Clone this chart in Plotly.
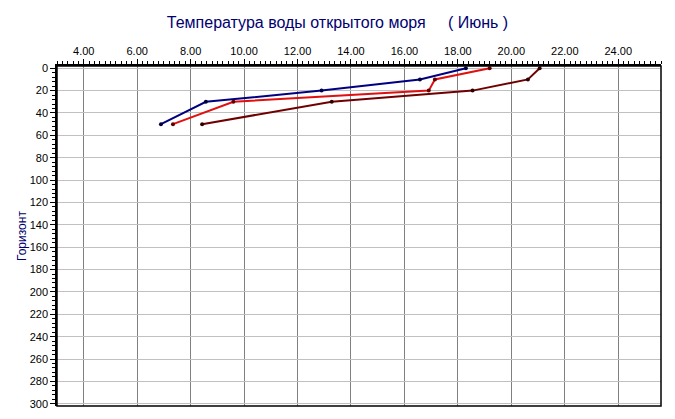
import plotly.graph_objects as go

depth = [0, 10, 20, 30, 50]
temp_navy = [18.30, 16.58, 12.90, 8.57, 6.89]
temp_red = [19.19, 17.14, 16.91, 9.60, 7.34]
temp_maroon = [21.06, 20.62, 18.55, 13.28, 8.43]

title_text = "Температура воды открытого моря\u00a0\u00a0\u00a0\u00a0\u00a0( Июнь )"
y_title = "Горизонт"
x_ticks = [4, 6, 8, 10, 12, 14, 16, 18, 20, 22, 24]
y_ticks = list(range(0, 301, 20))

series = [
    (temp_navy, "#000080", "#000040"),
    (temp_red, "#e01010", "#600000"),
    (temp_maroon, "#700000", "#300000"),
]

fig = go.Figure()
for temps, col, mcol in series:
    fig.add_trace(go.Scatter(
        x=temps, y=depth, mode="lines+markers",
        line=dict(color=col, width=2),
        marker=dict(color=mcol, size=4),
        showlegend=False,
    ))

font_family = "Liberation Sans, Arial, sans-serif"

fig.update_layout(
    width=675, height=419,
    margin=dict(l=57, r=14, t=66, b=13),
    paper_bgcolor="white", plot_bgcolor="white",
    font=dict(family=font_family, size=11, color="black"),
    title=dict(text=title_text, x=0.5, xanchor="center",
               y=1 - 22 / 419, yanchor="middle", yref="container",
               font=dict(family=font_family, size=16, color="#000070")),
    xaxis=dict(
        side="top", range=[3.0, 25.6], automargin=False,
        tickvals=x_ticks, ticktext=[f"{v:.2f}" for v in x_ticks],
        ticks="outside", ticklen=5, tickcolor="black",
        showgrid=True, gridcolor="#808080", gridwidth=1,
        zeroline=False,
        showline=True, linecolor="black", linewidth=1.5, mirror=False,
        minor=dict(dtick=0.2, ticks="outside", ticklen=3, tickcolor="black", showgrid=False),
    ),
    yaxis=dict(
        range=[302, -2], automargin=False,
        tickvals=y_ticks,
        ticks="outside", ticklen=5, tickcolor="black",
        showgrid=True, gridcolor="#c0c0c0", gridwidth=1,
        zeroline=False,
        showline=True, linecolor="black", linewidth=1.5, mirror=False,
        minor=dict(dtick=4, ticks="outside", ticklen=3, tickcolor="black", showgrid=False),
    ),
    shapes=[dict(type="rect", xref="paper", yref="paper", x0=0, x1=1, y0=0, y1=1,
                 line=dict(color="black", width=1.5), layer="above")],
    annotations=[dict(
        text=y_title, textangle=-90, xref="paper", yref="paper",
        x=0, y=0.5, xshift=-35, xanchor="center", yanchor="middle",
        showarrow=False, font=dict(family=font_family, size=12, color="#000070"),
    )],
)

fig.write_html(
    "out.html",
    config={"displayModeBar": False},
    post_script="document.body.style.margin='0';document.body.style.overflow='hidden';",
)
